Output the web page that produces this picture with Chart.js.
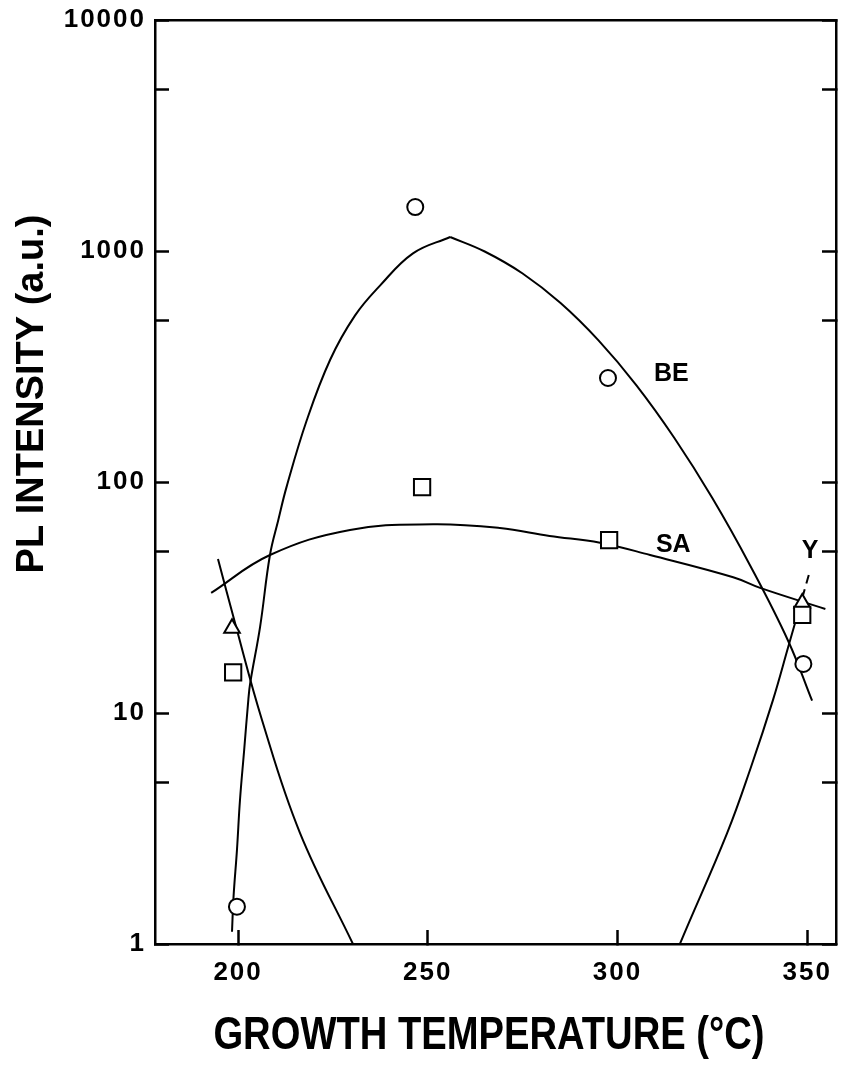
<!DOCTYPE html>
<html>
<head>
<meta charset="utf-8">
<title>PL intensity vs growth temperature</title>
<script src="https://cdn.jsdelivr.net/npm/chart.js@4.4.1/dist/chart.umd.min.js"></script>
<style>
  html, body { margin: 0; padding: 0; background: #fff; }
  #wrap { width: 846px; height: 1073px; position: relative; }
</style>
</head>
<body>
<div id="wrap"><canvas id="c" width="846" height="1073"></canvas></div>
<script>
// ---- measured samples (growth temperature in °C, PL intensity in a.u.) ----
const beTemp = [199.7, 246.7, 297.5, 349.0];
const beIntensity = [1.45, 1550, 282, 16.3];

const saTemp = [198.7, 248.5, 297.8, 348.7];
const saIntensity = [15.0, 95, 56, 26.6];

const yTemp = [198.4, 348.7];
const yIntensity = [23.3, 29.9];

// ---- guide curves drawn through each set ----
// BE curve: rising flank up to the peak, then the falling flank (the peak is a corner)
const beRiseTemp = [198.4, 198.8, 199.7, 200.5, 201.6, 202.7, 203.2, 205.8, 208.4, 210.6, 212.8, 218.1, 224.3, 230.8, 237.4, 246.1, 255.9];
const beRiseIntensity = [1.13, 1.60, 2.55, 4.2, 6.9, 11.4, 13.5, 23.6, 48.3, 68.5, 95.5, 185, 339, 525, 708, 977, 1150];
const beFallTemp = [255.9, 265, 275, 285, 295, 305, 315, 325, 335, 345, 351.3];
const beFallIntensity = [1150, 995, 799, 595, 410, 262, 155, 85.2, 43.4, 20.5, 11.3];

const saCurveTemp = [192.9, 208.4, 229.5, 251.4, 269.0, 282.1, 295.4, 308.6, 330.5, 337.6, 354.8];
const saCurveIntensity = [33.1, 48.3, 62, 65.6, 63.2, 58.4, 54.6, 48.3, 38.7, 34.8, 28.2];

// the Y curve dips below the axis between its two branches (null = break)
const yCurveTemp = [194.7, 199.2, 206.3, 216.3, 230.8, 231.6, 273, 315.5, 316.0, 328.9, 335.2, 341.0, 345.0, 348.7, 350.8];
const yCurveIntensity = [46.4, 24.5, 9.33, 3.03, 0.96, 0.89, null, 0.89, 0.96, 3.02, 5.84, 11.4, 19.3, 31.5, 41.6];

// ---- axes ----
const xTickValues = [200, 250, 300, 350];
const yMajorTicks = [1, 10, 100, 1000, 10000];
const yMinorTicks = [5, 50, 500, 5000];

const FONT = "'Liberation Sans', Arial, Helvetica, sans-serif";

function pairs(xs, ys) {
  return xs.map((x, i) => ({ x: x, y: ys[i] }));
}

const yTickObjects = () => yMajorTicks.concat(yMinorTicks)
  .sort((a, b) => a - b)
  .map(v => ({ value: v, major: yMajorTicks.includes(v) }));

const tickFont = { family: FONT, size: 26, weight: 'bold' };

// fixed box sizes so the frame sits where it should
function fixBox(size) {
  return s => {
    if (s.isHorizontal()) s.height = size; else s.width = size;
    s.paddingTop = s.paddingBottom = s.paddingLeft = s.paddingRight = 0;
  };
}

// axis titles and curve captions
const frameText = {
  id: 'frameText',
  beforeDraw(chart) {
    const ctx = chart.ctx;
    ctx.save();
    ctx.fillStyle = '#fff';
    ctx.fillRect(0, 0, chart.width, chart.height);
    ctx.restore();
    ctx.letterSpacing = '2px';
  },
  afterDraw(chart, args, opts) {
    const { ctx, scales } = chart;
    ctx.save();
    ctx.letterSpacing = '0px';
    ctx.fillStyle = '#000';

    ctx.font = `bold ${opts.captionSize}px ${FONT}`;
    ctx.textAlign = 'center';
    ctx.textBaseline = 'middle';
    opts.captions.forEach(c => {
      ctx.fillText(c.text, scales.x.getPixelForValue(c.x), scales.y.getPixelForValue(c.y));
    });
    ctx.textBaseline = 'alphabetic';

    const xt = opts.xTitle;
    ctx.save();
    ctx.font = `bold ${xt.size}px ${FONT}`;
    ctx.translate(xt.cx, xt.baseline);
    ctx.scale(xt.condense, 1);
    ctx.fillText(xt.text, 0, 0);
    ctx.restore();

    const yt = opts.yTitle;
    ctx.save();
    ctx.font = `bold ${yt.size}px ${FONT}`;
    ctx.translate(yt.baseline, yt.cy);
    ctx.rotate(-Math.PI / 2);
    ctx.fillText(yt.text, 0, 0);
    ctx.restore();

    ctx.restore();
  }
};

const curveStyle = {
  type: 'line',
  borderColor: '#000',
  borderWidth: 2,
  pointRadius: 0,
  fill: false,
  tension: 0.4,
  spanGaps: false,
  order: 2
};

const markerStyle = {
  type: 'scatter',
  showLine: false,
  borderColor: '#000',
  backgroundColor: '#fff',
  borderWidth: 2,
  order: 0
};

new Chart(document.getElementById('c'), {
  data: {
    datasets: [
      Object.assign({}, curveStyle, { label: 'BE curve (rise)', data: pairs(beRiseTemp, beRiseIntensity) }),
      Object.assign({}, curveStyle, { label: 'BE curve (fall)', data: pairs(beFallTemp, beFallIntensity) }),
      Object.assign({}, curveStyle, { label: 'SA curve', data: pairs(saCurveTemp, saCurveIntensity) }),
      Object.assign({}, curveStyle, {
        label: 'Y curve',
        data: pairs(yCurveTemp, yCurveIntensity),
        segment: { borderDash: c => (c.p0.parsed.x >= 348 ? [9, 6] : undefined) }
      }),
      Object.assign({}, markerStyle, { label: 'BE', data: pairs(beTemp, beIntensity), pointStyle: 'circle', pointRadius: 8 }),
      Object.assign({}, markerStyle, { label: 'SA', data: pairs(saTemp, saIntensity), pointStyle: 'rect', pointRadius: 11.5 }),
      Object.assign({}, markerStyle, { label: 'Y', data: pairs(yTemp, yIntensity), pointStyle: 'triangle', pointRadius: 9 })
    ]
  },
  options: {
    responsive: false,
    animation: false,
    events: [],
    layout: { padding: 0, autoPadding: false },
    plugins: {
      legend: { display: false },
      tooltip: { enabled: false },
      frameText: {
        captionSize: 25,
        captions: [
          { text: 'BE', x: 314.2, y: 294 },
          { text: 'SA', x: 314.7, y: 53.4 },
          { text: 'Y', x: 350.8, y: 50.3 }
        ],
        xTitle: { text: 'GROWTH TEMPERATURE (°C)', size: 46, condense: 0.83, cx: 489, baseline: 1049 },
        yTitle: { text: 'PL INTENSITY (a.u.)', size: 38, baseline: 43, cy: 394 }
      }
    },
    scales: {
      x: {
        type: 'linear',
        position: 'bottom',
        min: 178.1,
        max: 357.6,
        afterBuildTicks: s => { s.ticks = xTickValues.map(v => ({ value: v })); },
        afterFit: fixBox(129),
        grid: { drawOnChartArea: false, drawTicks: true, tickLength: -14, tickWidth: 2.5, tickColor: '#000' },
        border: { display: true, color: '#000', width: 2.5 },
        ticks: { color: '#000', font: tickFont, padding: 27, maxRotation: 0, autoSkip: false, callback: v => String(v) }
      },
      x2: {
        type: 'linear',
        position: 'top',
        min: 178.1,
        max: 357.6,
        afterFit: fixBox(20),
        grid: { display: false },
        border: { display: true, color: '#000', width: 2.5 },
        ticks: { display: false }
      },
      y: {
        type: 'logarithmic',
        position: 'left',
        min: 1,
        max: 10000,
        afterBuildTicks: s => { s.ticks = yTickObjects(); },
        afterFit: fixBox(155),
        grid: { drawOnChartArea: false, drawTicks: true, tickLength: -14, tickWidth: 2.5, tickColor: '#000' },
        border: { display: true, color: '#000', width: 2.5 },
        ticks: {
          color: '#000', font: tickFont, padding: 23, autoSkip: false,
          callback: v => (yMajorTicks.includes(v) ? String(v) : '')
        }
      },
      y2: {
        type: 'logarithmic',
        position: 'right',
        min: 1,
        max: 10000,
        afterBuildTicks: s => { s.ticks = yTickObjects(); },
        afterFit: fixBox(10),
        grid: { drawOnChartArea: false, drawTicks: true, tickLength: -14, tickWidth: 2.5, tickColor: '#000' },
        border: { display: true, color: '#000', width: 2.5 },
        ticks: { display: true, autoSkip: false, callback: () => '' }
      }
    }
  },
  plugins: [frameText]
});
</script>
</body>
</html>
